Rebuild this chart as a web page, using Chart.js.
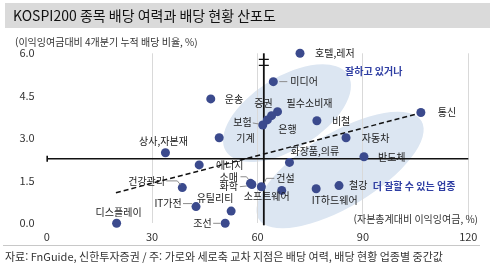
<!DOCTYPE html>
<html lang="ko">
<head>
<meta charset="utf-8">
<script src="https://cdn.jsdelivr.net/npm/chart.js@4.4.1/dist/chart.umd.min.js"></script>
<style>
  html, body { margin: 0; padding: 0; background: #ffffff; }
  #wrap { position: relative; width: 500px; height: 276px; }
</style>
</head>
<body>
<div id="wrap"><canvas id="c"></canvas></div>
<script>
// ---------------- DATA ----------------
const sectors = ['호텔,레저','미디어','운송','필수소비재','증권','은행','보험','비철','기계','자동차','통신',
  '상사,자본재','화장품,의류','반도체','에너지','소매','화학','건설','소프트웨어','IT하드웨어','철강',
  '건강관리','IT가전','유틸리티','디스플레이','조선'];
// 자본총계대비 이익잉여금 (%)
const retainedToEquity = [72.1, 64.5, 46.7, 65.7, 64.0, 62.8, 61.5, 76.9, 49.1, 85.2, 106.5,
  33.8, 69.1, 90.3, 43.4, 58.0, 58.4, 61.1, 66.9, 76.7, 83.2,
  38.6, 42.5, 52.5, 19.9, 50.8];
// 이익잉여금대비 4개분기 누적 배당 비율 (%)
const dividendRatio = [6.0, 5.0, 4.39, 3.94, 3.80, 3.65, 3.47, 3.62, 3.02, 3.02, 3.91,
  2.49, 2.15, 2.35, 2.06, 1.41, 1.37, 1.29, 1.16, 1.22, 1.33,
  1.26, 0.59, 0.43, 0.0, 0.0];
const medianX = 61.8;   // 배당 여력 중간값
const medianY = 2.28;   // 배당 현황 중간값
const trendX = [19.7, 106.3];
const trendY = [1.08, 3.89];
const xTicks = [0, 30, 60, 90, 120];
const yTicks = [0, 1.5, 3.0, 4.5, 6.0];

const titleText = 'KOSPI200 종목 배당 여력과 배당 현황 산포도';
const yTitle = '(이익잉여금대비 4개분기 누적 배당 비율, %)';
const xTitle = '(자본총계대비 이익잉여금, %)';
const noteGood = '잘하고 있거나';
const noteBetter = '더 잘할 수 있는 업종';
const sourceText = '자료: FnGuide, 신한투자증권 / 주: 가로와 세로축 교차 지점은 배당 여력, 배당 현황 업종별 중간값';

// ---------------- LAYOUT / STYLE ----------------
const FONT = "'Noto Sans CJK KR', 'Noto Sans', sans-serif";
const POINT_COLOR = '#3b4a8d';
const ELLIPSE_COLOR = '#dce6f2';
const NOTE_COLOR = '#2f3ea3';

// label placement relative to the point (px): dx, dy, align, leader polyline
const labelLayout = {
  '호텔,레저': {dx: 15, dy: 0, align: 'left'},
  '미디어': {dx: 17, dy: 0, align: 'left', leader: [[6,0],[14,0]]},
  '운송': {dx: 14, dy: 0, align: 'left'},
  '필수소비재': {dx: 9, dy: -8.5, align: 'left'},
  '증권': {dx: -8, dy: -12.5, align: 'center'},
  '은행': {dx: 11, dy: 9, align: 'left'},
  '보험': {dx: -11, dy: -2.3, align: 'right', leader: [[-10,-2],[-4,-1]]},
  '비철': {dx: 15, dy: 0, align: 'left'},
  '기계': {dx: 17, dy: 0, align: 'left'},
  '자동차': {dx: 15.7, dy: 0, align: 'left'},
  '통신': {dx: 17, dy: 0, align: 'left'},
  '상사,자본재': {dx: -2, dy: -12, align: 'center'},
  '화장품,의류': {dx: 1, dy: -11, align: 'left'},
  '반도체': {dx: 14, dy: 0, align: 'left'},
  '에너지': {dx: 16.7, dy: 0, align: 'left'},
  '소매': {dx: -12.5, dy: -6.6, align: 'right', leader: [[-10,-6.6],[-4,-6.6],[-2,-4]]},
  '화학': {dx: -14, dy: 2.2, align: 'right', leader: [[-12,2.2],[-5,1.5]]},
  '건설': {dx: 15, dy: -8.4, align: 'left', leader: [[3,-4],[5,-8.4],[13,-8.4]]},
  '소프트웨어': {dx: -15, dy: 6, align: 'center'},
  'IT하드웨어': {dx: -4.3, dy: 11.5, align: 'left'},
  '철강': {dx: 10, dy: 0, align: 'left'},
  '건강관리': {dx: -17.3, dy: -6.7, align: 'right', leader: [[-16,-6.7],[-5,-6.7],[-2,-3]]},
  'IT가전': {dx: -14.3, dy: -3.4, align: 'right', leader: [[-13,-3],[-4,-3]]},
  '유틸리티': {dx: -34.5, dy: -12.7, align: 'left'},
  '디스플레이': {dx: 2, dy: -11, align: 'center'},
  '조선': {dx: -13.6, dy: 0, align: 'right', leader: [[-12,0],[-5,0]]}
};

// background ellipses: centre in data units, radii in px, rotation in degrees
const ellipses = [
  {cx: 68.4, cy: 3.89, rx: 72, ry: 36, rot: -32},
  {cx: 83.5, cy: 1.88, rx: 95, ry: 37, rot: -31}
];

Chart.defaults.font.family = FONT;

const decor = {
  id: 'decor',
  beforeDraw(chart) {
    const ctx = chart.ctx, xs = chart.scales.x, ys = chart.scales.y;
    ctx.save();
    // title bar
    ctx.fillStyle = '#dadada';
    ctx.fillRect(5, 3, 485, 25);
    ctx.fillStyle = '#111';
    ctx.font = '14px ' + FONT;
    ctx.textBaseline = 'middle';
    ctx.textAlign = 'left';
    ctx.fillText(titleText, 13, 16);
    // ellipses
    ctx.fillStyle = ELLIPSE_COLOR;
    ellipses.forEach(e => {
      ctx.beginPath();
      ctx.ellipse(xs.getPixelForValue(e.cx), ys.getPixelForValue(e.cy), e.rx, e.ry, e.rot * Math.PI / 180, 0, Math.PI * 2);
      ctx.fill();
    });
    ctx.restore();
  },
  beforeDatasetsDraw(chart) {
    const ctx = chart.ctx, xs = chart.scales.x, ys = chart.scales.y, a = chart.chartArea;
    ctx.save();
    ctx.strokeStyle = '#111';
    // horizontal median line
    const hy = ys.getPixelForValue(medianY);
    ctx.lineWidth = 1.6;
    ctx.beginPath();
    ctx.moveTo(a.left, hy); ctx.lineTo(a.right, hy);
    ctx.moveTo(a.left + 0.5, hy - 3); ctx.lineTo(a.left + 0.5, hy + 3);
    ctx.stroke();
    // vertical median line with break marks
    const vx = xs.getPixelForValue(medianX);
    ctx.lineWidth = 1.8;
    ctx.beginPath();
    ctx.moveTo(vx, a.top); ctx.lineTo(vx, a.bottom + 2);
    ctx.stroke();
    ctx.lineWidth = 1.3;
    ctx.beginPath();
    ctx.moveTo(vx - 5, a.top + 6); ctx.lineTo(vx + 5, a.top + 6);
    ctx.moveTo(vx - 5, a.top + 12); ctx.lineTo(vx + 5, a.top + 12);
    ctx.stroke();
    ctx.restore();
  },
  afterDatasetsDraw(chart) {
    const ctx = chart.ctx, meta = chart.getDatasetMeta(0);
    ctx.save();
    ctx.font = '10px ' + FONT;
    ctx.textBaseline = 'middle';
    sectors.forEach((name, i) => {
      const el = meta.data[i];
      const L = labelLayout[name] || {dx: 12, dy: 0, align: 'left'};
      if (L.leader) {
        ctx.strokeStyle = '#8c8c8c';
        ctx.lineWidth = 1;
        ctx.beginPath();
        L.leader.forEach((p, k) => {
          if (k === 0) ctx.moveTo(el.x + p[0], el.y + p[1]);
          else ctx.lineTo(el.x + p[0], el.y + p[1]);
        });
        ctx.stroke();
      }
      ctx.fillStyle = '#1a1a1a';
      ctx.textAlign = L.align;
      ctx.fillText(name, el.x + L.dx, el.y + L.dy);
    });
    ctx.restore();
  },
  afterDraw(chart) {
    const ctx = chart.ctx, xs = chart.scales.x, ys = chart.scales.y;
    ctx.save();
    ctx.textBaseline = 'middle';
    // axis titles
    ctx.fillStyle = '#333';
    ctx.font = '10px ' + FONT;
    ctx.textAlign = 'left';
    ctx.fillText(yTitle, 15, 42.5);
    ctx.textAlign = 'right';
    ctx.fillText(xTitle, 478, 219.5);
    // notes
    ctx.fillStyle = NOTE_COLOR;
    ctx.font = 'bold 10px ' + FONT;
    ctx.textAlign = 'left';
    ctx.fillText(noteGood, 345, 71.7);
    ctx.fillText(noteBetter, 372.7, 186.7);
    // footer
    ctx.strokeStyle = '#c8c8c8';
    ctx.lineWidth = 1;
    ctx.beginPath();
    ctx.moveTo(3, 245.5); ctx.lineTo(480, 245.5);
    ctx.stroke();
    ctx.fillStyle = '#333';
    ctx.font = '11px ' + FONT;
    ctx.textAlign = 'left';
    ctx.fillText(sourceText, 5, 257);
    ctx.restore();
  }
};

new Chart(document.getElementById('c'), {
  type: 'scatter',
  data: {
    datasets: [
      {
        label: '업종',
        data: sectors.map((s, i) => ({x: retainedToEquity[i], y: dividendRatio[i]})),
        backgroundColor: POINT_COLOR,
        borderColor: POINT_COLOR,
        borderWidth: 0,
        pointRadius: 4.5,
        clip: false,
        order: 0
      },
      {
        type: 'line',
        label: '추세',
        data: trendX.map((x, i) => ({x: x, y: trendY[i]})),
        borderColor: '#111',
        borderWidth: 1.5,
        borderDash: [5, 3],
        pointRadius: 0,
        fill: false,
        order: 1
      }
    ]
  },
  options: {
    responsive: true,
    maintainAspectRatio: false,
    animation: false,
    events: [],
    layout: { padding: { top: 53.3, right: 31.7, left: 0, bottom: 0 } },
    plugins: { legend: { display: false }, tooltip: { enabled: false }, title: { display: false } },
    scales: {
      x: {
        type: 'linear', min: xTicks[0], max: xTicks[xTicks.length - 1],
        afterBuildTicks(scale) { scale.ticks = xTicks.map(v => ({value: v})); },
        afterFit(scale) { scale.height = 52.7; },
        border: { display: false },
        grid: { drawTicks: false, lineWidth: 1,
          color: c => (c.tick && c.tick.value === 0) ? 'rgba(0,0,0,0)' : '#d9d9d9' },
        ticks: { padding: 7, color: '#333', font: { size: 11 }, maxRotation: 0 }
      },
      y: {
        type: 'linear', min: yTicks[0], max: yTicks[yTicks.length - 1],
        afterBuildTicks(scale) { scale.ticks = yTicks.map(v => ({value: v})); },
        afterFit(scale) { scale.width = 46.7; },
        border: { display: false },
        grid: { display: false, drawTicks: false },
        ticks: { padding: 12, color: '#333', font: { size: 11 }, callback: v => Number(v).toFixed(1) }
      }
    }
  },
  plugins: [decor]
});
</script>
</body>
</html>
